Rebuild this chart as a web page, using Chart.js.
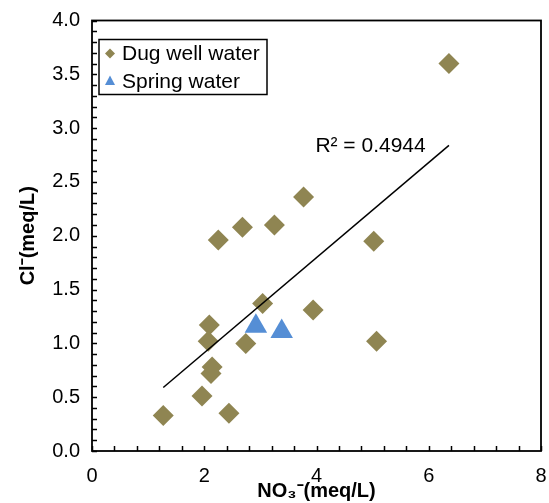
<!DOCTYPE html>
<html>
<head>
<meta charset="utf-8">
<script src="https://cdn.jsdelivr.net/npm/chart.js@4.4.0/dist/chart.umd.min.js"></script>
<style>
    html, body { margin: 0; padding: 0; background: #fff; }
    #wrap { width: 549px; height: 503px; }
</style>
</head>
<body>
<div id="wrap"><canvas id="chart"></canvas></div>
<script>
// dug well samples, NO3- and Cl- in meq/L
const dugNO3 = [6.36, 3.77, 3.25, 2.68, 2.25, 5.02, 3.04, 3.94, 2.09, 2.07, 2.74, 5.07, 2.14, 2.12, 1.96, 2.44, 1.27];
const dugCl  = [3.60, 2.36, 2.10, 2.08, 1.96, 1.95, 1.37, 1.31, 1.17, 1.02, 1.00, 1.02, 0.78, 0.72, 0.51, 0.35, 0.33];
// spring samples
const springNO3 = [2.92, 3.38];
const springCl  = [1.16, 1.11];
// linear trend line of the dug wells, end points
const trendNO3 = [1.27, 6.36];
const trendCl  = [0.59, 2.84];
const r2Text = 'R² = 0.4944';
const r2At = [3.98, 2.83];   // where the label sits (data units)

const seriesNames = ['Dug well water', 'Spring water'];
const seriesColors = ['#8f8552', '#558ed5'];
const seriesStyles = ['rectRot', 'triangle'];

const xTitle = 'NO₃⁻(meq/L)';
const yTitle = 'Cl⁻(meq/L)';

const FONT = '"Liberation Sans", Arial, sans-serif';

const toPoints = (xs, ys) => xs.map((x, i) => ({ x: x, y: ys[i] }));

// frame, inward tick marks, legend box and R² label
const decorations = {
    id: 'decorations',
    afterDatasetsDraw(chart) {
        const ctx = chart.ctx;
        const a = chart.chartArea;
        const xs = chart.scales.x, ys = chart.scales.y;
        ctx.save();
        ctx.strokeStyle = '#000';
        ctx.lineWidth = 1.5;
        // minor / major ticks pointing into the plot
        ctx.beginPath();
        for (let i = 0; i <= 40; i++) {
            const py = Math.round(ys.getPixelForValue(i / 10)) + 0.5;
            ctx.moveTo(a.left, py);
            ctx.lineTo(a.left + 5, py);
        }
        for (let i = 0; i <= 20; i++) {
            const px = Math.round(xs.getPixelForValue(i * 0.4)) + 0.5;
            ctx.moveTo(px, a.bottom);
            ctx.lineTo(px, a.bottom - 5);
        }
        ctx.stroke();
        ctx.lineWidth = 1.8;
        ctx.strokeRect(a.left, a.top, a.right - a.left, a.bottom - a.top);

        // R² label
        ctx.fillStyle = '#000';
        ctx.font = '21px ' + FONT;
        ctx.textAlign = 'left';
        ctx.textBaseline = 'middle';
        ctx.fillText(r2Text, xs.getPixelForValue(r2At[0]), ys.getPixelForValue(r2At[1]));

        // legend
        const lx = a.left + 7, ly = a.top + 19;
        ctx.fillStyle = '#fff';
        ctx.fillRect(lx, ly, 168, 55);
        ctx.lineWidth = 1.5;
        ctx.strokeRect(lx, ly, 168, 55);
        seriesNames.forEach((name, i) => {
            const cy = ly + 14 + i * 27.5;
            const cx = lx + 11;
            ctx.fillStyle = seriesColors[i];
            ctx.beginPath();
            if (seriesStyles[i] === 'rectRot') {
                ctx.moveTo(cx - 5, cy); ctx.lineTo(cx, cy - 5);
                ctx.lineTo(cx + 5, cy); ctx.lineTo(cx, cy + 5);
            } else {
                ctx.moveTo(cx, cy - 5.5); ctx.lineTo(cx + 5, cy + 4);
                ctx.lineTo(cx - 5, cy + 4);
            }
            ctx.closePath();
            ctx.fill();
            ctx.fillStyle = '#000';
            ctx.fillText(name, lx + 23, cy + 1);
        });
        ctx.restore();
    }
};

const data = {
    datasets: [{
        label: 'trend',
        data: toPoints(trendNO3, trendCl),
        showLine: true,
        borderColor: '#000',
        borderWidth: 1.5,
        pointRadius: 0,
        order: 0
    }, {
        label: seriesNames[1],
        data: toPoints(springNO3, springCl),
        pointStyle: seriesStyles[1],
        pointRadius: 13,
        backgroundColor: seriesColors[1],
        borderWidth: 0,
        order: 1
    }, {
        label: seriesNames[0],
        data: toPoints(dugNO3, dugCl),
        pointStyle: seriesStyles[0],
        pointRadius: 10.5,
        backgroundColor: seriesColors[0],
        borderWidth: 0,
        order: 2
    }]
};

const config = {
    type: 'scatter',
    data: data,
    options: {
        responsive: true,
        maintainAspectRatio: false,
        animation: false,
        events: [],
        layout: {
            autoPadding: false,  // markers must not push the plot edges in
            padding: { top: 20.5, right: 8, bottom: 0, left: 0 }
        },
        plugins: {
            legend: { display: false },
            tooltip: { enabled: false }
        },
        scales: {
            x: {
                type: 'linear',
                min: 0,
                max: 8,
                grid: { display: false, drawTicks: false },
                border: { display: false },
                ticks: {
                    stepSize: 2,
                    padding: 13,
                    color: '#000',
                    font: { family: FONT, size: 20 }
                },
                title: {
                    display: true,
                    text: xTitle,
                    color: '#000',
                    padding: { top: 0, bottom: 0 },
                    font: { family: FONT, size: 20, weight: 'bold' }
                },
                afterFit: (scale) => {
                    scale.height = 52;
                    scale.paddingLeft = 0;
                    scale.paddingRight = 0;
                }
            },
            y: {
                type: 'linear',
                min: 0,
                max: 4,
                grid: { display: false, drawTicks: false },
                border: { display: false },
                ticks: {
                    stepSize: 0.5,
                    padding: 12,
                    color: '#000',
                    font: { family: FONT, size: 20 },
                    callback: (v) => v.toFixed(1)
                },
                title: {
                    display: true,
                    text: yTitle,
                    color: '#000',
                    padding: { top: 16, bottom: 0 },
                    font: { family: FONT, size: 20, weight: 'bold' }
                },
                afterFit: (scale) => {
                    scale.width = 92;
                    scale.paddingTop = 0;
                    scale.paddingBottom = 0;
                }
            }
        }
    },
    plugins: [decorations]
};

var chart = document.getElementById('chart');
var myChart = new Chart(chart, config);
</script>
</body>
</html>
